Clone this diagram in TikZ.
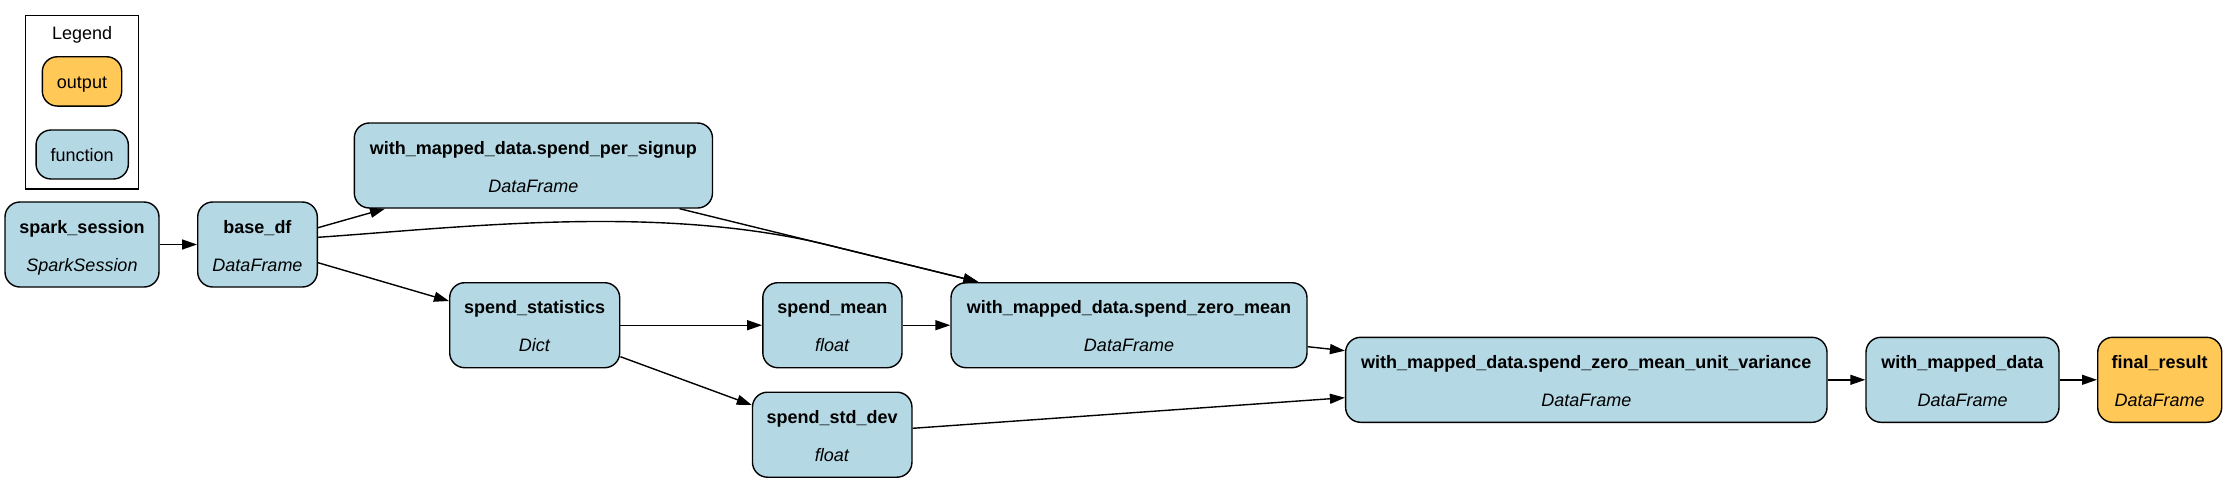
\documentclass[tikz,border=0pt]{standalone}
\usepackage{fontspec}
\setmainfont{Liberation Sans}
\usetikzlibrary{arrows.meta}
\definecolor{fnblue}{HTML}{B4D8E4}
\definecolor{outorange}{HTML}{FFC857}
\newcommand\ntxt[2]{\rule{0pt}{19pt}\textbf{#1}\\[16.4pt]\textit{#2}\rule[-4pt]{0pt}{4pt}}
\begin{document}
\begin{tikzpicture}[x=1pt,y=-1pt,
 fn/.style={draw=black, line width=1.4pt, fill=fnblue, rounded corners=15pt, inner sep=0pt, align=center, minimum height=85pt, font=\fontsize{18pt}{21.6pt}\selectfont},
 outn/.style={fn, fill=outorange},
 legitem/.style={draw=black, line width=1.4pt, rounded corners=15pt, inner sep=0pt, text height=14pt, text depth=0pt, font=\fontsize{18pt}{21.6pt}\selectfont},
 edge/.style={line width=1.4pt, -{Triangle[length=15pt,width=10pt]}},
]
\fill[white] (0,0) rectangle (2228,482);
\useasboundingbox (0,0) rectangle (2228,482);

% legend
\node[draw=black, line width=1.4pt, minimum width=113pt, minimum height=173.7pt, inner sep=0pt] (legendbox) at (82.2,102.2) {};
\node[anchor=base, inner sep=0pt, font=\fontsize{18pt}{21.6pt}\selectfont] (legendtitle) at (82.2,39.3) {Legend};
\node[legitem, fill=outorange, minimum width=79.4pt, minimum height=49.3pt] (legout) at (82,81.4) {output};
\node[legitem, fill=fnblue, minimum width=92.3pt, minimum height=49pt] (legfn) at (82.2,154.5) {function};

% nodes
\node[fn, minimum width=154pt] (ss) at (82,244.5) {\ntxt{spark\_session}{SparkSession}};
\node[fn, minimum width=119.6pt] (bd) at (257.5,244.5) {\ntxt{base\_df}{DataFrame}};
\node[fn, minimum width=358.2pt] (psig) at (533.4,165.5) {\ntxt{with\_mapped\_data.spend\_per\_signup}{DataFrame}};
\node[fn, minimum width=170pt] (stat) at (534.7,325.2) {\ntxt{spend\_statistics}{Dict}};
\node[fn, minimum width=139.2pt] (mean) at (832.4,325.2) {\ntxt{spend\_mean}{float}};
\node[fn, minimum width=356pt] (zm) at (1129,325.2) {\ntxt{with\_mapped\_data.spend\_zero\_mean}{DataFrame}};
\node[fn, minimum width=159.5pt] (sd) at (832.2,434.7) {\ntxt{spend\_std\_dev}{float}};
\node[fn, minimum width=481.4pt] (uv) at (1586.3,379.8) {\ntxt{with\_mapped\_data.spend\_zero\_mean\_unit\_variance}{DataFrame}};
\node[fn, minimum width=193pt] (wmd) at (1962.5,379.8) {\ntxt{with\_mapped\_data}{DataFrame}};
\node[outn, minimum width=124pt] (fr) at (2159.7,379.8) {\ntxt{final\_result}{DataFrame}};

\coordinate (j) at (833,246.2);

% edges
\draw[edge] (ss.east) -- (bd.west);
\draw[edge] ([yshift=16.8pt]bd.east) -- ([xshift=-148.4pt]psig.south);
\draw[edge] ([yshift=7.2pt]bd.east) .. controls (467,227) and (662,203.4) .. (j) -- ([xshift=-150.6pt]zm.north);
\draw[edge] ([xshift=146.2pt]psig.south) -- ([xshift=-150.6pt]zm.north);
\draw[edge] ([yshift=-18.2pt]bd.east) -- ([yshift=24.2pt]stat.west);
\draw[edge] (stat.east) -- (mean.west);
\draw[edge] ([yshift=-31.5pt]stat.east) -- ([yshift=29.7pt]sd.west);
\draw[edge] (mean.east) -- (zm.west);
\draw[edge] ([yshift=-21.5pt]zm.east) -- ([yshift=29.1pt]uv.west);
\draw[edge] ([yshift=6.4pt]sd.east) -- ([yshift=-17.9pt]uv.west);
\draw[edge] (uv.east) -- (wmd.west);
\draw[edge] (wmd.east) -- (fr.west);
\end{tikzpicture}
\end{document}
